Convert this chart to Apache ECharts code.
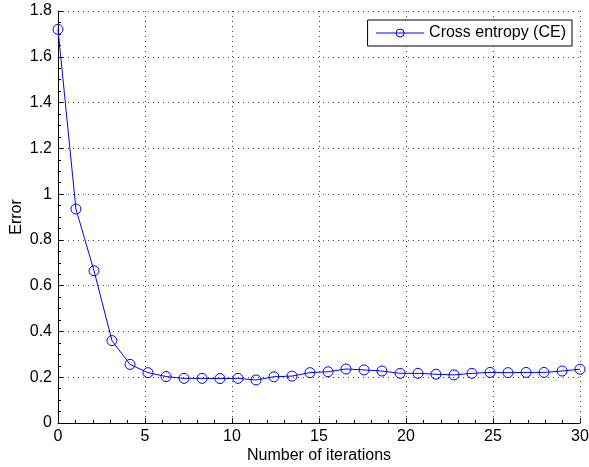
<!DOCTYPE html>
<html>
<head>
<meta charset="utf-8">
<script src="https://cdn.jsdelivr.net/npm/echarts@6/dist/echarts.min.js"></script>
<style>
  html, body { margin: 0; padding: 0; background: #fff; }
  #main { width: 589px; height: 467px; }
</style>
</head>
<body>
<div id="main"></div>
<script>
// iterations (x) and error values
var iterations = [0, 1.03, 2.07, 3.10, 4.14, 5.17, 6.21, 7.24, 8.28, 9.31,
    10.34, 11.38, 12.41, 13.45, 14.48, 15.52, 16.55, 17.59, 18.62, 19.66,
    20.69, 21.72, 22.76, 23.79, 24.83, 25.86, 26.90, 27.93, 28.97, 30];
var ceError = [1.72, 0.935, 0.665, 0.36, 0.256, 0.22, 0.203, 0.195, 0.195, 0.194,
    0.195, 0.188, 0.202, 0.205, 0.22, 0.224, 0.236, 0.232, 0.227, 0.217,
    0.217, 0.213, 0.21, 0.217, 0.221, 0.22, 0.221, 0.221, 0.227, 0.235];
var seriesName = 'Cross entropy (CE)';

var points = [];
for (var i = 0; i < iterations.length; i++) {
    points.push([iterations[i], ceError[i]]);
}

var font = 'Liberation Sans, Arial, Helvetica, sans-serif';
var gridDots = { show: true, lineStyle: { color: '#444', type: [1, 4], width: 1 } };

var myChart = echarts.init(document.getElementById('main'));
myChart.setOption({
    animation: false,
    backgroundColor: '#fff',
    textStyle: { fontFamily: font },
    grid: { left: 58, right: 9, top: 11, bottom: 44, containLabel: false, outerBoundsMode: 'none' },
    legend: {
        right: 17, top: 20,
        padding: [5, 6, 5, 8],
        borderColor: '#000', borderWidth: 1,
        backgroundColor: '#fff',
        itemWidth: 48, itemHeight: 10, itemGap: 6,
        lineStyle: { width: 1 },
        itemStyle: { borderWidth: 1 },
        textStyle: { fontSize: 16, color: '#000', fontFamily: font },
        data: [seriesName]
    },
    xAxis: {
        type: 'value', min: 0, max: 30, interval: 5,
        name: 'Number of iterations', nameLocation: 'middle', nameGap: 25,
        nameMoveOverlap: false,
        nameTextStyle: { fontSize: 16, color: '#000', fontFamily: font },
        axisLine: { lineStyle: { color: '#000', width: 1 } },
        axisTick: { inside: true, length: 5, lineStyle: { color: '#000' } },
        minorTick: { show: true, splitNumber: 5, length: 3, lineStyle: { color: '#000' } },
        axisLabel: { fontSize: 16, color: '#000', margin: 6, fontFamily: font },
        splitLine: gridDots
    },
    yAxis: {
        type: 'value', min: 0, max: 1.8, interval: 0.2,
        name: 'Error', nameLocation: 'middle', nameGap: 33, nameRotate: 90,
        nameMoveOverlap: false,
        nameTextStyle: { fontSize: 16, color: '#000', fontFamily: font },
        axisLine: { show: true, lineStyle: { color: '#000', width: 1 } },
        axisTick: { show: true, inside: true, length: 5, lineStyle: { color: '#000' } },
        minorTick: { show: true, splitNumber: 4, length: 3, lineStyle: { color: '#000' } },
        axisLabel: { fontSize: 16, color: '#000', margin: 6, fontFamily: font,
            formatter: function (v) { return String(Math.round(v * 10) / 10); } },
        splitLine: gridDots
    },
    series: [{
        name: seriesName,
        type: 'line',
        data: points,
        symbol: 'circle',
        symbolSize: 10,
        lineStyle: { color: '#0000ff', width: 1 },
        itemStyle: { color: 'rgba(255,255,255,0)', borderColor: '#0000ff', borderWidth: 1 },
        emphasis: { disabled: true }
    }]
});
</script>
</body>
</html>
